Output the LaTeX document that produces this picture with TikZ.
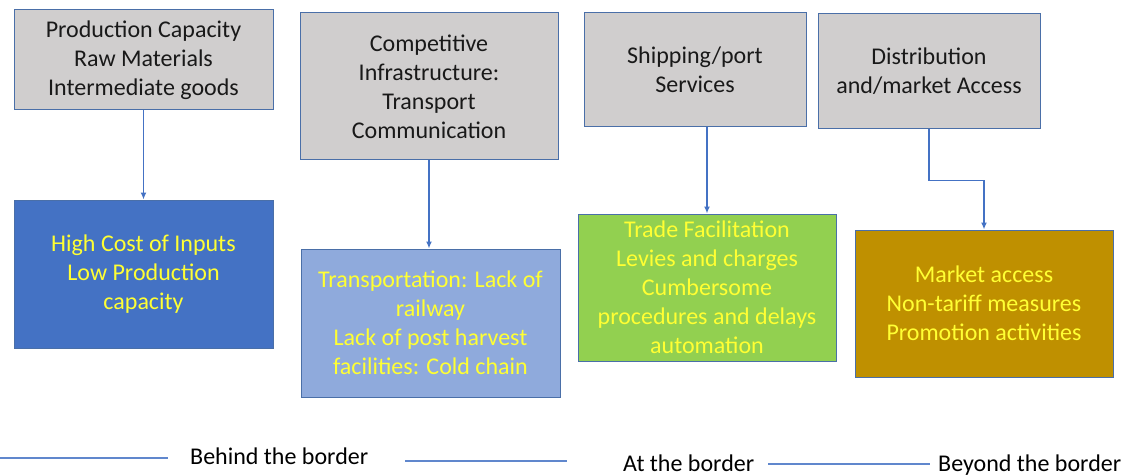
\documentclass[tikz,border=0pt]{standalone}
\usepackage{fontspec}
\setmainfont{Carlito}
\usetikzlibrary{arrows.meta}
\definecolor{grayfill}{HTML}{D0CECE}
\definecolor{edgeblue}{HTML}{4A6FA8}
\definecolor{arrowblue}{HTML}{4472C4}
\definecolor{boxblue}{HTML}{4472C4}
\definecolor{lightblue}{HTML}{8FAADC}
\definecolor{boxgreen}{HTML}{92D050}
\definecolor{boxgold}{HTML}{BF9000}
\definecolor{txtyellow}{HTML}{FFFF33}
\begin{document}
\begin{tikzpicture}[x=1pt,y=-1pt,
  every node/.style={font=\fontsize{24}{29}\selectfont},
  box/.style={draw=edgeblue,line width=1pt,rectangle,align=center,inner sep=0pt},
  topbox/.style={box,fill=grayfill,text=black!90},
  lowbox/.style={box,text=txtyellow},
  conn/.style={draw=arrowblue,line width=1.4pt,-{Latex[length=7pt,width=6pt]}},
  legline/.style={draw=arrowblue!85,line width=2.5pt}]
\useasboundingbox (0,0) rectangle (1130,476);
% top boxes
\node[topbox,minimum width=259pt,minimum height=100pt] (gA) at (143.5,60) {Production Capacity\\Raw Materials\\Intermediate goods};
\node[topbox,minimum width=258pt,minimum height=147pt] (gB) at (429,86.5) {Competitive\\Infrastructure:\\Transport\\Communication};
\node[topbox,minimum width=222pt,minimum height=114pt] (gC) at (695,70) {Shipping/port\\Services};
\node[topbox,minimum width=222pt,minimum height=115pt] (gD) at (929,71.5) {Distribution\\and/market Access};
% lower boxes
\node[lowbox,fill=boxblue,minimum width=259pt,minimum height=148pt] (bA) at (143.5,274) {High Cost of Inputs\\Low Production\\capacity};
\node[lowbox,fill=lightblue,minimum width=259pt,minimum height=148pt] (bB) at (430.5,323) {Transportation: Lack of\\railway\\Lack of post harvest\\facilities: Cold chain};
\node[lowbox,fill=boxgreen,minimum width=258pt,minimum height=147pt] (bC) at (707,287.5) {Trade Facilitation\\Levies and charges\\Cumbersome\\procedures and delays\\automation};
\node[lowbox,fill=boxgold,minimum width=258pt,minimum height=147pt] (bD) at (984,303.5) {Market access\\Non-tariff measures\\Promotion activities};
% connectors
\draw[conn] (gA.south) -- (bA.north);
\draw[conn] (gB.south) -- (gB.south |- bB.north);
\draw[conn] (gC.south -| bC.north) -- (bC.north);
\draw[conn] (gD.south) -- ++(0,51) -| (bD.north);
% legend
\coordinate (l1a) at (0,458); \coordinate (l1b) at (168,458);
\coordinate (l2a) at (405,461); \coordinate (l2b) at (567,461);
\coordinate (l3a) at (768,464); \coordinate (l3b) at (930,464);
\draw[legline] (l1a) -- (l1b);
\draw[legline] (l2a) -- (l2b);
\draw[legline] (l3a) -- (l3b);
\node[anchor=west,inner sep=0pt] (t1) at (190,456) {Behind the border};
\node[anchor=west,inner sep=0pt] (t2) at (623,463) {At the border};
\node[anchor=west,inner sep=0pt] (t3) at (938,465) {Beyond the border};
\end{tikzpicture}
\end{document}
